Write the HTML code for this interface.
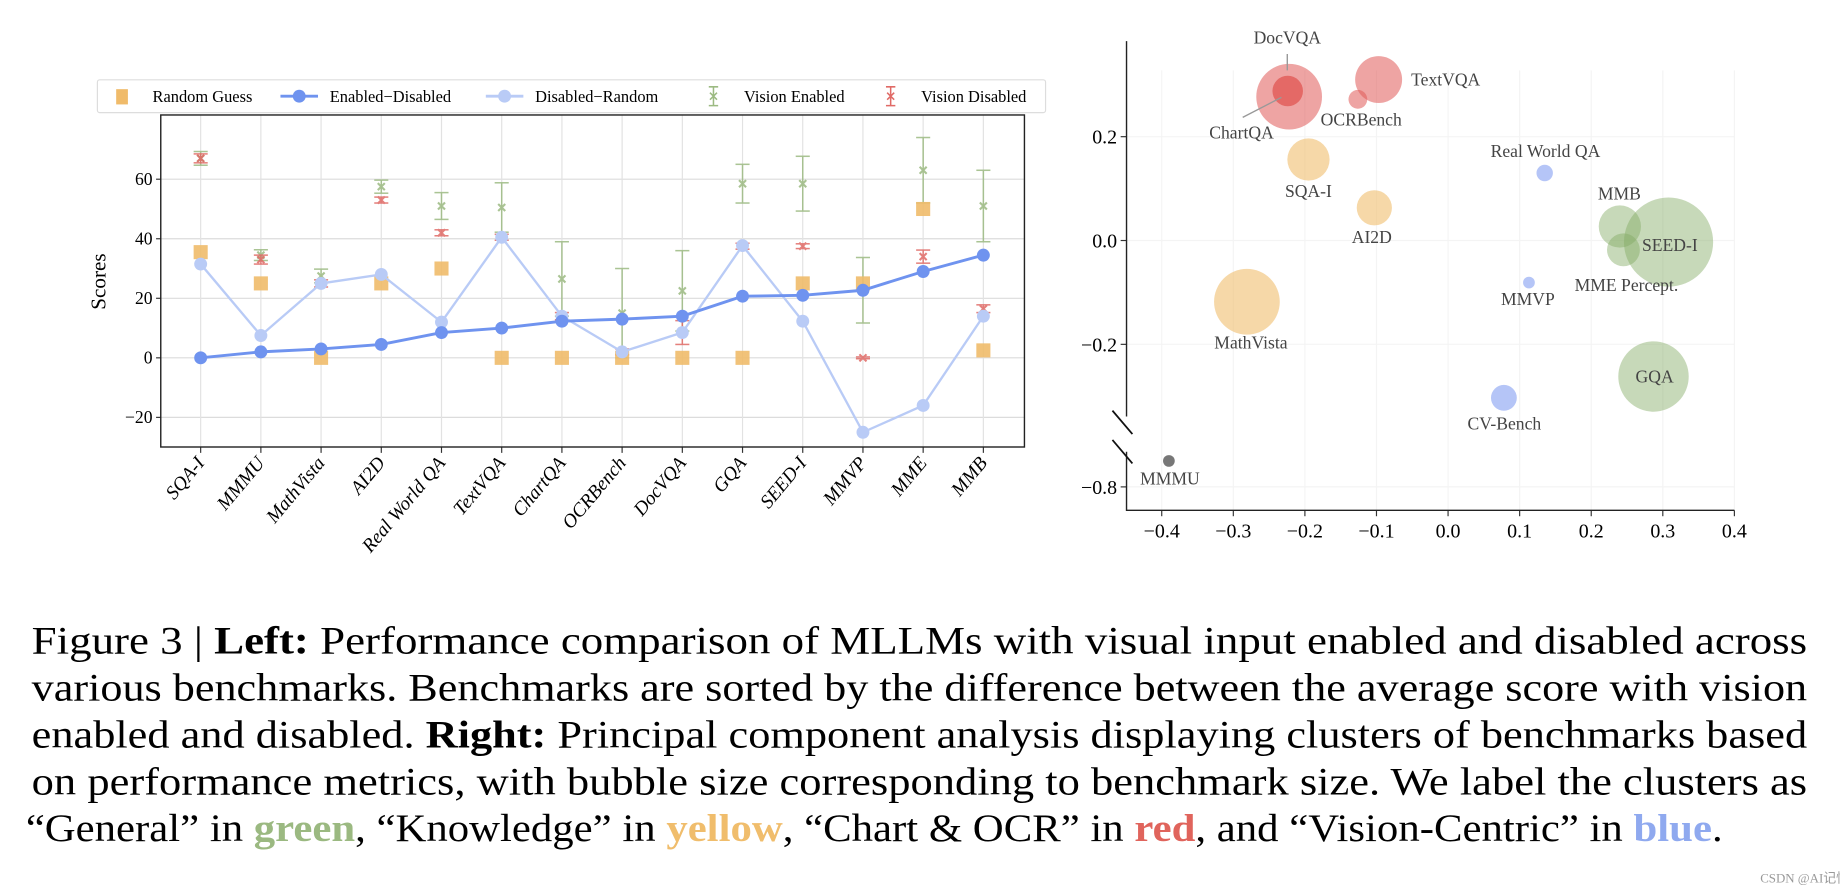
<!DOCTYPE html>
<html><head><meta charset="utf-8"><style>
html,body{margin:0;padding:0;background:#fff}
svg{display:block}
text{font-family:"Liberation Serif",serif}
</style></head><body>
<svg id="fig" width="1840" height="894" viewBox="0 0 1568 762" preserveAspectRatio="none" xmlns="http://www.w3.org/2000/svg">
<g id="left"></g>
<g id="right"></g>
<g id="caption" font-size="33">
<text x="27" y="557" textLength="1513" lengthAdjust="spacingAndGlyphs">Figure 3 | <tspan font-weight="bold">Left:</tspan> Performance comparison of MLLMs with visual input enabled and disabled across</text>
<text x="27" y="597" textLength="1513" lengthAdjust="spacingAndGlyphs">various benchmarks. Benchmarks are sorted by the difference between the average score with vision</text>
<text x="27" y="637" textLength="1513" lengthAdjust="spacingAndGlyphs">enabled and disabled. <tspan font-weight="bold">Right:</tspan> Principal component analysis displaying clusters of benchmarks based</text>
<text x="27" y="677" textLength="1513" lengthAdjust="spacingAndGlyphs">on performance metrics, with bubble size corresponding to benchmark size. We label the clusters as</text>
<text x="22" y="717" textLength="1446" lengthAdjust="spacingAndGlyphs">“General” in <tspan fill="#9bb981" font-weight="bold">green</tspan>, “Knowledge” in <tspan fill="#f0bd6c" font-weight="bold">yellow</tspan>, “Chart &amp; OCR” in <tspan fill="#e0645c" font-weight="bold">red</tspan>, and “Vision-Centric” in <tspan fill="#8fa9ef" font-weight="bold">blue</tspan>.</text>
<text x="1500" y="752" font-size="11" fill="#999" font-family="Liberation Sans,Noto Sans CJK SC,sans-serif">CSDN @AI记忆</text>
</g>
</svg>
<script>
const categories=["SQA-I","MMMU","MathVista","AI2D","Real World QA","TextVQA","ChartQA","OCRBench","DocVQA","GQA","SEED-I","MMVP","MME","MMB"];
const randomGuess=[35.5,25,0,25,30,0,0,0,0,0,25,25,50,2.5];
const enabledMinusDisabled=[0,2,3,4.5,8.5,10,12.3,13,14,20.7,21,22.7,29,34.5];
const disabledMinusRandom=[31.5,7.5,25,28,12,40.5,14,2,8.5,37.7,12.3,-25,-16,14];
const visionEnabled=[67,34.5,27.5,57.5,51,50.5,26.5,15,22.5,58.5,58.5,22.7,63,51];
const visionEnabledErr=[2.3,1.8,2.3,2.2,4.5,8.3,12.5,15,13.5,6.5,9.2,11,11,12];
const visionDisabled=[67,33,25,53,42,40.5,14,2,8.5,37.5,37.5,0,34,16.5];
const visionDisabledErr=[1.5,1.5,1.2,1,1,1,1.2,1,4,1,0.8,0.3,2.2,1.3];
const yTicks=[-20,0,20,40,60];
const pcaNames=["DocVQA","ChartQA","OCRBench","TextVQA","SQA-I","AI2D","Real World QA","MMB","SEED-I","MME Percept.","MMVP","MathVista","GQA","CV-Bench","MMMU"];
const pcaX=[-0.222,-0.224,-0.126,-0.097,-0.195,-0.103,0.135,0.240,0.308,0.245,0.113,-0.281,0.287,0.078,-0.390];
const pcaY=[0.277,0.288,0.272,0.310,0.156,0.063,0.130,0.027,-0.003,-0.018,-0.081,-0.118,-0.262,-0.303,-0.750];
const pcaSize=[28,13,8,20,18,15,7,18,38,14,5,28,30,11,5];
const pcaGroup=["red","red","red","red","yellow","yellow","blue","green","green","green","blue","yellow","green","blue","gray"];
const pcaXTicks=[-0.4,-0.3,-0.2,-0.1,0.0,0.1,0.2,0.3,0.4];
const pcaYTicks=[0.2,0.0,-0.2,-0.8];

const NS="http://www.w3.org/2000/svg";
function mk(parent,tag,attrs,txt){const e=document.createElementNS(NS,tag);for(const k in attrs)e.setAttribute(k,attrs[k]);if(txt!==undefined)e.textContent=txt;parent.appendChild(e);return e;}
const ORANGE="#f0bb6a",BLUE="#6f93ef",LBLUE="#b9cbf6",GREEN="#9cba82",RED="#e06a66";
const fmt=v=>(v<0?"−":"")+Math.abs(v);

// LEFT CHART
const L=document.getElementById('left');
const PL=137,PR=873,PT=98,PB=381;
const xs=i=>171+i*(838-171)/(categories.length-1);
const ys=v=>305-v*50.75/20;
yTicks.forEach(t=>{
  const g=mk(L,'line',{x1:PL,x2:PR,y1:ys(t),y2:ys(t),stroke:"#dcdcdc","stroke-width":1});
  
  mk(L,'line',{x1:PL-4,x2:PL,y1:ys(t),y2:ys(t),stroke:"#333"});
  const tx=mk(L,'text',{x:PL-7,y:ys(t)+5,"font-size":15,"text-anchor":"end"},fmt(t));
  
});
categories.forEach((c,i)=>{
  const g=mk(L,'line',{x1:xs(i),x2:xs(i),y1:PT,y2:PB,stroke:"#e2e2e2"});
  
  mk(L,'line',{x1:xs(i),x2:xs(i),y1:PB,y2:PB+5,stroke:"#333"});
  const t=mk(L,'text',{x:xs(i)+4,y:PB+14,"font-size":16.5,"font-style":"italic","text-anchor":"end",transform:`rotate(-50 ${xs(i)+4} ${PB+14})`},c);
  
});
const frame=mk(L,'rect',{x:PL,y:PT,width:PR-PL,height:PB-PT,fill:"none",stroke:"#222","stroke-width":1.2});

const yt=mk(L,'text',{x:90,y:240,"font-size":18,"text-anchor":"middle",transform:"rotate(-90 90 240)"},"Scores");


function errbar(vals,errs,color,name){
  vals.forEach((v,i)=>{
    const g=mk(L,'g',{stroke:color,"stroke-width":1.3,opacity:0.85});
    
    const x=xs(i),y1=ys(v+errs[i]),y2=ys(v-errs[i]);
    mk(g,'line',{x1:x,x2:x,y1:y1,y2:y2});
    mk(g,'line',{x1:x-6,x2:x+6,y1:y1,y2:y1});
    mk(g,'line',{x1:x-6,x2:x+6,y1:y2,y2:y2});
    const y=ys(v);
    mk(g,'path',{d:`M${x-3} ${y-3}L${x+3} ${y+3}M${x-3} ${y+3}L${x+3} ${y-3}`,"stroke-width":1.8});
  });
}
errbar(visionEnabled,visionEnabledErr,GREEN,'vision-enabled-point');
errbar(visionDisabled,visionDisabledErr,RED,'vision-disabled-point');
randomGuess.forEach((v,i)=>{
  const r=mk(L,'rect',{x:xs(i)-6,y:ys(v)-6,width:12,height:12,fill:ORANGE,opacity:0.9});
  
});
function line(vals,color,name,w){
  const p=mk(L,'polyline',{points:vals.map((v,i)=>xs(i)+","+ys(v)).join(" "),fill:"none",stroke:color,"stroke-width":w});
  
  vals.forEach((v,i)=>{
    const c=mk(L,'circle',{cx:xs(i),cy:ys(v),r:5.5,fill:color});
    
  });
}
line(disabledMinusRandom,LBLUE,'disabled-random',2);
line(enabledMinusDisabled,BLUE,'enabled-disabled',2.5);

// legend
const lg=mk(L,'g',{});

mk(lg,'rect',{x:83,y:68,width:808,height:28,fill:"#fff",stroke:"#ddd",rx:2});
const leg=[["Random Guess",104,"sq",ORANGE],["Enabled−Disabled",255,"ln",BLUE],["Disabled−Random",430,"ln",LBLUE],["Vision Enabled",608,"eb",GREEN],["Vision Disabled",759,"eb",RED]];
leg.forEach(([t,x,k,c])=>{
  const e=mk(lg,'g',{});
  
  if(k==="sq")mk(e,'rect',{x:x-5,y:76,width:10,height:13,fill:c});
  if(k==="ln"){mk(e,'line',{x1:x-16,x2:x+16,y1:82,y2:82,stroke:c,"stroke-width":2.5});mk(e,'circle',{cx:x,cy:82,r:5.5,fill:c});}
  if(k==="eb"){mk(e,'path',{d:`M${x} 74V90M${x-4} 74H${x+4}M${x-4} 90H${x+4}M${x-3} 79L${x+3} 85M${x-3} 85L${x+3} 79`,stroke:c,"stroke-width":1.3,fill:"none"});}
  mk(e,'text',{x:x+26,y:87,"font-size":14},t);
});

// RIGHT CHART
const R=document.getElementById('right');
const RL=960,RRt=1478,RT=35,RB=435;
const px=v=>1234+v*610;
const py=v=>v<-0.5?415-(v+0.8)*442.5:205-v*442.5;
pcaXTicks.forEach(t=>{
  const g=mk(R,'line',{x1:px(t),x2:px(t),y1:RT+25,y2:RB,stroke:"#f4f4f4"});
  
  mk(R,'line',{x1:px(t),x2:px(t),y1:RB,y2:RB+5,stroke:"#333"});
  const tx=mk(R,'text',{x:px(t),y:RB+23,"font-size":17,"text-anchor":"middle"},(t<0?"−":"")+Math.abs(t).toFixed(1));
  
});
pcaYTicks.forEach(t=>{
  const g=mk(R,'line',{x1:RL,x2:RRt,y1:py(t),y2:py(t),stroke:"#f4f4f4"});
  
  mk(R,'line',{x1:RL-5,x2:RL,y1:py(t),y2:py(t),stroke:"#333"});
  const tx=mk(R,'text',{x:RL-8,y:py(t)+6,"font-size":17,"text-anchor":"end"},(t<0?"−":"")+Math.abs(t).toFixed(1));
  
});
const ax=mk(R,'path',{d:`M${RL} ${RT}V355M${RL} 385V${RB}H${RRt}`,stroke:"#222","stroke-width":1.2,fill:"none"});

const br=mk(R,'path',{d:"M948 350L965 370M948 375L965 395",stroke:"#111","stroke-width":1.5});

const colors={red:"rgba(224,90,88,0.55)",yellow:"rgba(240,190,110,0.6)",blue:"rgba(120,150,240,0.55)",green:"rgba(130,170,100,0.45)",gray:"#777"};
const order=[0,2,3,4,5,6,7,8,9,10,11,12,13,14,1];
order.forEach(i=>{
  const c=mk(R,'circle',{cx:px(pcaX[i]),cy:py(pcaY[i]),r:pcaSize[i],fill:i===1?"rgba(224,80,76,0.7)":colors[pcaGroup[i]]});
  
  
});
const labs=[["DocVQA",1097,37],["TextVQA",1232,73],["OCRBench",1160,107],["ChartQA",1058,118],["SQA-I",1115,168],["AI2D",1169,207],["Real World QA",1317,134],["MMB",1380,170],["SEED-I",1423,214],["MME Percept.",1386,248],["MMVP",1302,260],["MathVista",1066,297],["GQA",1410,326],["CV-Bench",1282,366],["MMMU",997,413]];
labs.forEach(([t,x,y])=>{
  const e=mk(R,'text',{x:x,y:y,"font-size":15,"text-anchor":"middle",fill:"#444"},t);
  
});
const arr=mk(R,'path',{d:"M1097 46V60M1059 100L1092 83",stroke:"#999","stroke-width":1.2,fill:"none"});

</script>
</body></html>
